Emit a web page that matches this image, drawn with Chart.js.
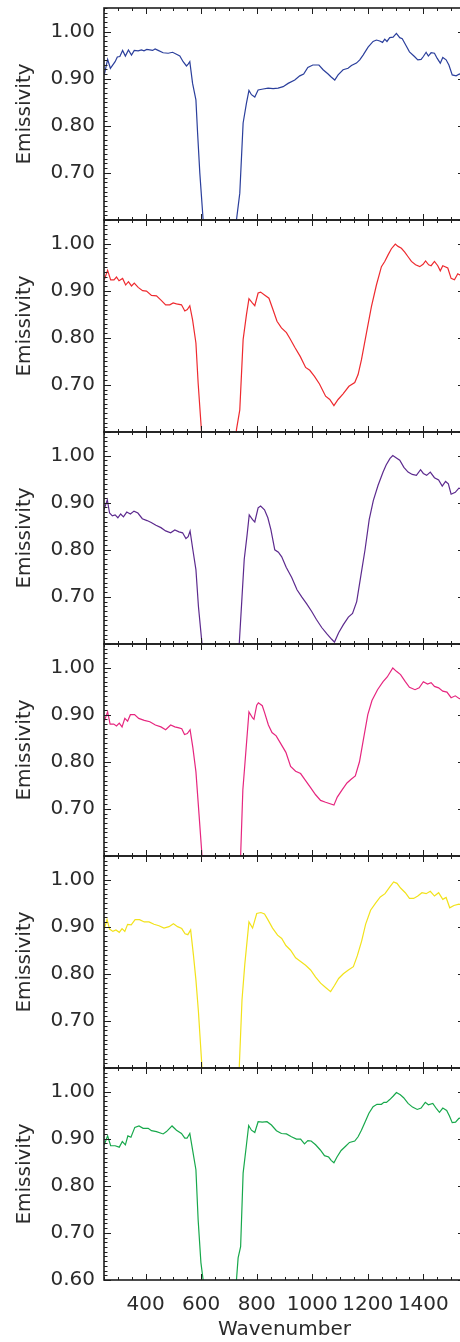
<!DOCTYPE html>
<html>
<head>
<meta charset="utf-8">
<title>Emissivity</title>
<script src="https://cdn.jsdelivr.net/npm/chart.js@4.4.1/dist/chart.umd.min.js"></script>
<style>
  html, body { margin: 0; padding: 0; background: #fff; }
  body { position: relative; width: 460px; height: 1342px; overflow: hidden; }
  canvas { position: absolute; left: 0; }
</style>
</head>
<body>
<script>
// axis ranges and tick labels
const xMin = 250, xMax = 1550;
const yMin = 0.60, yMax = 1.05;
const xTicks = [400, 600, 800, 1000, 1200, 1400];
const yTicks = [0.70, 0.80, 0.90, 1.00];
const yTicksLast = [0.60, 0.70, 0.80, 0.90, 1.00];

// [wavenumber, emissivity] (values under 0.60 fall outside the panel)
const blue = [[251,0.908],[263,0.941],[273,0.922],[290,0.936],[298,0.946],[307,0.947],[317,0.960],[327,0.948],[338,0.961],[349,0.950],[359,0.960],[373,0.959],[385,0.961],[394,0.959],[404,0.962],[415,0.961],[425,0.960],[434,0.963],[445,0.960],[463,0.955],[481,0.954],[497,0.956],[511,0.952],[523,0.948],[535,0.936],[547,0.927],[553,0.931],[559,0.936],[569,0.890],[581,0.855],[587,0.785],[595,0.700],[607,0.600],[620,0.450],[715,0.450],[727,0.600],[739,0.657],[751,0.806],[763,0.848],[772,0.875],[781,0.866],[793,0.861],[805,0.876],[823,0.878],[841,0.880],[859,0.879],[877,0.880],[895,0.883],[913,0.890],[937,0.897],[955,0.906],[969,0.910],[984,0.924],[1002,0.929],[1024,0.929],[1039,0.919],[1057,0.910],[1069,0.903],[1081,0.897],[1093,0.908],[1111,0.919],[1129,0.922],[1141,0.928],[1159,0.933],[1171,0.940],[1183,0.950],[1201,0.967],[1219,0.979],[1231,0.982],[1243,0.980],[1253,0.977],[1261,0.984],[1269,0.979],[1279,0.987],[1291,0.988],[1303,0.996],[1315,0.987],[1324,0.985],[1338,0.970],[1350,0.957],[1368,0.947],[1380,0.940],[1392,0.941],[1400,0.947],[1410,0.956],[1418,0.948],[1428,0.955],[1440,0.954],[1450,0.943],[1461,0.933],[1470,0.945],[1482,0.940],[1492,0.929],[1504,0.908],[1518,0.906],[1530,0.910],[1545,0.905]];

const red = [[251,0.923],[263,0.943],[274,0.923],[286,0.923],[295,0.929],[304,0.921],[317,0.926],[328,0.912],[338,0.919],[349,0.910],[359,0.916],[373,0.907],[389,0.900],[403,0.899],[421,0.890],[439,0.889],[457,0.879],[472,0.870],[487,0.870],[499,0.874],[511,0.872],[529,0.870],[541,0.857],[550,0.860],[559,0.868],[569,0.838],[581,0.789],[589,0.704],[601,0.602],[615,0.450],[715,0.450],[727,0.605],[739,0.647],[751,0.796],[763,0.849],[772,0.883],[784,0.874],[793,0.868],[805,0.895],[814,0.897],[828,0.891],[844,0.884],[859,0.859],[873,0.835],[889,0.821],[907,0.811],[919,0.799],[937,0.780],[957,0.760],[976,0.737],[991,0.731],[1008,0.718],[1026,0.702],[1048,0.676],[1063,0.669],[1078,0.656],[1093,0.669],[1111,0.681],[1132,0.697],[1153,0.705],[1165,0.722],[1177,0.753],[1195,0.810],[1213,0.866],[1231,0.912],[1249,0.951],[1261,0.962],[1273,0.976],[1285,0.989],[1299,0.999],[1309,0.994],[1321,0.990],[1333,0.982],[1345,0.972],[1357,0.962],[1372,0.955],[1387,0.951],[1399,0.956],[1408,0.963],[1419,0.955],[1428,0.953],[1440,0.962],[1452,0.953],[1461,0.942],[1470,0.953],[1488,0.948],[1500,0.926],[1512,0.923],[1524,0.936],[1530,0.934],[1545,0.930]];

const purple = [[250,0.885],[262,0.906],[270,0.878],[280,0.872],[290,0.874],[300,0.868],[310,0.876],[320,0.870],[332,0.880],[345,0.876],[358,0.882],[372,0.878],[388,0.866],[405,0.862],[420,0.858],[437,0.852],[455,0.847],[472,0.840],[490,0.836],[505,0.842],[520,0.838],[533,0.836],[545,0.824],[553,0.828],[560,0.840],[570,0.800],[581,0.758],[590,0.680],[603,0.600],[615,0.450],[725,0.450],[737,0.600],[747,0.700],[755,0.780],[765,0.830],[773,0.874],[785,0.864],[793,0.859],[805,0.889],[814,0.893],[828,0.885],[840,0.868],[851,0.843],[865,0.800],[878,0.795],[890,0.785],[906,0.763],[926,0.741],[945,0.715],[962,0.700],[980,0.685],[998,0.669],[1015,0.652],[1034,0.635],[1052,0.622],[1070,0.610],[1080,0.604],[1095,0.624],[1112,0.641],[1130,0.657],[1145,0.665],[1160,0.690],[1175,0.745],[1190,0.800],[1205,0.864],[1220,0.905],[1237,0.937],[1255,0.965],[1266,0.980],[1280,0.994],[1290,1.000],[1303,0.995],[1315,0.990],[1330,0.975],[1345,0.965],[1360,0.960],[1375,0.958],[1390,0.970],[1400,0.962],[1412,0.958],[1425,0.965],[1440,0.953],[1455,0.948],[1468,0.935],[1480,0.945],[1490,0.940],[1500,0.918],[1515,0.922],[1528,0.931],[1545,0.928]];

const magenta = [[250,0.885],[263,0.906],[272,0.880],[285,0.880],[295,0.876],[305,0.882],[315,0.874],[325,0.892],[335,0.886],[345,0.900],[360,0.900],[375,0.892],[395,0.888],[415,0.885],[435,0.878],[455,0.874],[472,0.868],[490,0.878],[505,0.874],[520,0.872],[530,0.870],[540,0.858],[550,0.860],[560,0.868],[570,0.830],[581,0.779],[592,0.690],[603,0.600],[615,0.450],[728,0.450],[742,0.600],[750,0.740],[758,0.800],[772,0.906],[785,0.893],[790,0.890],[800,0.920],[806,0.925],[820,0.919],[828,0.905],[842,0.878],[855,0.862],[870,0.855],[887,0.838],[905,0.820],[922,0.790],[940,0.780],[958,0.775],[976,0.760],[994,0.745],[1012,0.730],[1030,0.718],[1048,0.714],[1078,0.708],[1090,0.725],[1108,0.741],[1125,0.755],[1140,0.763],[1155,0.770],[1170,0.800],[1185,0.850],[1200,0.900],[1215,0.930],[1235,0.953],[1255,0.970],[1270,0.980],[1290,0.999],[1303,0.992],[1318,0.985],[1335,0.970],[1350,0.958],[1370,0.953],[1385,0.957],[1400,0.970],[1415,0.965],[1428,0.968],[1440,0.960],[1455,0.957],[1470,0.950],[1485,0.948],[1500,0.936],[1515,0.940],[1530,0.934],[1545,0.935]];

const yellow = [[250,0.893],[261,0.915],[270,0.895],[282,0.890],[293,0.893],[305,0.888],[315,0.896],[325,0.890],[335,0.905],[348,0.904],[362,0.915],[378,0.915],[395,0.910],[412,0.910],[430,0.905],[448,0.902],[466,0.897],[484,0.900],[500,0.906],[515,0.900],[530,0.896],[542,0.885],[552,0.883],[562,0.893],[572,0.840],[581,0.787],[590,0.720],[603,0.600],[615,0.450],[722,0.450],[737,0.600],[747,0.745],[757,0.820],[772,0.910],[785,0.897],[800,0.928],[815,0.930],[828,0.927],[840,0.915],[857,0.897],[875,0.882],[890,0.875],[905,0.860],[922,0.850],[940,0.834],[958,0.826],[976,0.818],[994,0.808],[1012,0.793],[1030,0.780],[1048,0.771],[1066,0.762],[1080,0.775],[1095,0.790],[1112,0.800],[1130,0.808],[1148,0.815],[1162,0.838],[1178,0.870],[1192,0.905],[1210,0.935],[1228,0.950],[1245,0.963],[1262,0.970],[1280,0.985],[1293,0.995],[1305,0.992],[1318,0.982],[1335,0.972],[1350,0.960],[1365,0.960],[1380,0.965],[1395,0.972],[1410,0.970],[1425,0.975],[1440,0.965],[1455,0.972],[1470,0.958],[1482,0.962],[1495,0.940],[1510,0.945],[1528,0.948],[1545,0.945]];

const green = [[251,0.887],[263,0.906],[274,0.885],[290,0.885],[305,0.882],[316,0.894],[327,0.887],[336,0.906],[347,0.903],[361,0.924],[376,0.927],[391,0.922],[409,0.922],[421,0.917],[439,0.915],[463,0.910],[475,0.915],[495,0.927],[511,0.918],[529,0.911],[541,0.901],[549,0.901],[559,0.911],[569,0.876],[581,0.834],[589,0.728],[599,0.637],[607,0.600],[620,0.450],[715,0.450],[727,0.600],[733,0.647],[742,0.671],[751,0.827],[763,0.887],[771,0.928],[781,0.918],[793,0.913],[805,0.936],[820,0.935],[837,0.936],[853,0.929],[871,0.917],[889,0.911],[907,0.910],[925,0.904],[943,0.899],[958,0.899],[972,0.889],[984,0.896],[996,0.895],[1012,0.887],[1029,0.876],[1044,0.864],[1059,0.861],[1068,0.854],[1078,0.849],[1089,0.861],[1104,0.875],[1120,0.884],[1134,0.892],[1153,0.895],[1165,0.904],[1177,0.918],[1189,0.934],[1204,0.954],[1219,0.968],[1233,0.973],[1249,0.973],[1258,0.977],[1267,0.977],[1279,0.983],[1291,0.990],[1303,0.998],[1317,0.993],[1329,0.987],[1345,0.975],[1361,0.967],[1378,0.962],[1392,0.965],[1407,0.977],[1418,0.972],[1434,0.975],[1448,0.963],[1458,0.956],[1470,0.965],[1484,0.960],[1494,0.948],[1504,0.934],[1516,0.935],[1528,0.943],[1545,0.945]];

const panels = [
    { data: blue, color: "#2b3f9c" },
    { data: red, color: "#ee2a2f" },
    { data: purple, color: "#5c2a8e" },
    { data: magenta, color: "#e6267f" },
    { data: yellow, color: "#f2e21b" },
    { data: green, color: "#17a84b" },
];

const fontFamily = "'DejaVu Sans', sans-serif";
const textColor = "#2b2b2b";

// box round the plot with little inward ticks, like the original
const frameTicks = {
    id: "frameTicks",
    afterDraw(chart) {
        const { ctx, chartArea: a, scales } = chart;
        const x = scales.x, y = scales.y;
        ctx.save();
        ctx.strokeStyle = "#1e1e1e";
        ctx.lineWidth = 1;
        ctx.beginPath();
        for (let v = xMin; v <= xMax; v += 50) {
            const px = Math.round(x.getPixelForValue(v)) + 0.5;
            const len = v % 200 === 0 ? 6 : 3;
            ctx.moveTo(px, a.bottom);
            ctx.lineTo(px, a.bottom - len);
            ctx.moveTo(px, a.top);
            ctx.lineTo(px, a.top + len);
        }
        for (let i = 60; i <= 105; i++) {
            const py = Math.round(y.getPixelForValue(i / 100)) + 0.5;
            const major = i % 10 === 0;
            ctx.moveTo(a.left, py);
            ctx.lineTo(a.left + (major ? 7 : 3.5), py);
            if (major) {
                ctx.moveTo(a.right, py);
                ctx.lineTo(a.right - 7, py);
            }
        }
        ctx.stroke();
        ctx.lineWidth = 1.6;
        ctx.strokeRect(a.left, a.top, a.right - a.left, a.bottom - a.top);
        ctx.restore();
    },
};

panels.forEach((p, i) => {
    const last = i === panels.length - 1;
    const canvas = document.createElement("canvas");
    canvas.width = 470;
    canvas.height = last ? 282 : 228;
    canvas.style.top = 212 * i + "px";
    document.body.appendChild(canvas);

    new Chart(canvas.getContext("2d"), {
        type: "line",
        data: {
            datasets: [
                {
                    data: p.data.map(([wn, em]) => ({ x: wn, y: em })),
                    borderColor: p.color,
                    borderWidth: 1.2,
                    pointRadius: 0,
                    tension: 0,
                    fill: false,
                },
            ],
        },
        options: {
            responsive: false,
            animation: false,
            devicePixelRatio: 1,
            layout: { padding: { top: 8, bottom: last ? 0 : 8, left: 0, right: 5 } },
            plugins: { legend: { display: false }, tooltip: { enabled: false } },
            scales: {
                x: {
                    type: "linear",
                    min: xMin,
                    max: xMax,
                    display: last,
                    grid: { display: false, drawTicks: false },
                    border: { display: false },
                    afterBuildTicks: (s) => { s.ticks = xTicks.map((v) => ({ value: v })); },
                    afterFit: (s) => {
                        s.height = last ? 62 : 0;
                        s.paddingLeft = 0;
                        s.paddingRight = 0;
                    },
                    ticks: {
                        autoSkip: false,
                        maxRotation: 0,
                        padding: 13,
                        color: textColor,
                        font: { family: fontFamily, size: 20 },
                        callback: (v) => String(v),
                    },
                    title: {
                        display: true,
                        text: "Wavenumber",
                        color: textColor,
                        font: { family: fontFamily, size: 20 },
                        padding: { top: 0, bottom: 0 },
                    },
                },
                y: {
                    type: "linear",
                    min: yMin,
                    max: yMax,
                    grid: { display: false, drawTicks: false },
                    border: { display: false },
                    afterBuildTicks: (s) => { s.ticks = (last ? yTicksLast : yTicks).map((v) => ({ value: v })); },
                    afterFit: (s) => { s.width = 104; s.paddingTop = 0; s.paddingBottom = 0; },
                    ticks: {
                        padding: 9,
                        color: textColor,
                        font: { family: fontFamily, size: 20 },
                        callback: (v) => Number(v).toFixed(2),
                    },
                    title: {
                        display: true,
                        text: "Emissivity",
                        color: textColor,
                        font: { family: fontFamily, size: 20 },
                        padding: { top: 13, bottom: 0 },
                    },
                },
            },
        },
        plugins: [frameTicks],
    });
});
</script>
</body>
</html>
